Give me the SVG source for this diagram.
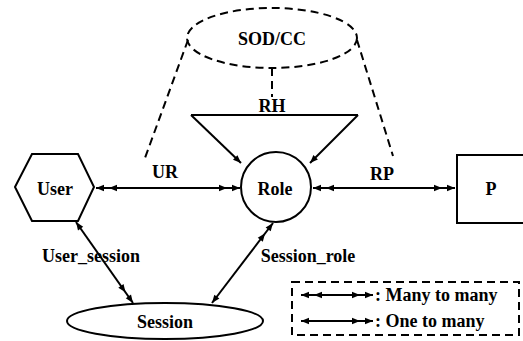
<svg xmlns="http://www.w3.org/2000/svg" width="523" height="341" viewBox="0 0 523 341">
  <style>
    .shape { fill: #fff; stroke: #000; stroke-width: 2; }
    .dash { fill: none; stroke: #000; stroke-width: 2; stroke-dasharray: 8 5; }
    .link { fill: none; stroke: #000; stroke-width: 2; }
    .lbl { font-family: "Liberation Serif", "Times New Roman", serif; font-size: 18px; font-weight: bold; fill: #000; text-anchor: middle; }
    .leg { font-family: "Liberation Serif", "Times New Roman", serif; font-size: 18px; font-weight: bold; fill: #000; }
    .m2m { marker-start: url(#dbl); marker-end: url(#dbl); }
    .o2m { marker-start: url(#one); marker-end: url(#dbl); }
  </style>
  <defs>
    <marker id="one" markerUnits="userSpaceOnUse" orient="auto-start-reverse" refX="0" refY="0" markerWidth="10" markerHeight="10" overflow="visible">
      <path d="M0,0 L-8,-3.2 L-8,3.2 Z" fill="#000"/>
    </marker>
    <marker id="dbl" markerUnits="userSpaceOnUse" orient="auto-start-reverse" refX="0" refY="0" markerWidth="10" markerHeight="10" overflow="visible">
      <path d="M0,0 L-8,-3.2 L-8,3.2 Z M-13,0 L-21,-3.2 L-21,3.2 Z" fill="#000"/>
    </marker>
  </defs>

  <rect width="523" height="341" fill="#fff"/>

  <!-- constraint layer above the hierarchy -->
  <g id="sodcc">
    <ellipse class="dash" cx="272" cy="38" rx="85" ry="30"/>
    <text class="lbl" x="272" y="45">SOD/CC</text>
  </g>

  <g id="connectors">
    <line class="dash" x1="188" y1="40" x2="145" y2="158"/>
    <line class="dash" x1="357" y1="40" x2="393" y2="156"/>
    <line class="dash" x1="272" y1="68" x2="272" y2="97"/>
    <!-- role hierarchy -->
    <line class="link" x1="191" y1="115" x2="358" y2="115"/>
    <line class="link" x1="191" y1="115" x2="241" y2="163" marker-end="url(#one)"/>
    <line class="link" x1="358" y1="115" x2="310" y2="163" marker-end="url(#one)"/>
    <!-- assignments -->
    <line class="link m2m" x1="96" y1="188" x2="240" y2="188"/>
    <line class="link m2m" x1="313" y1="188" x2="455" y2="188"/>
    <line class="link o2m" x1="76" y1="222" x2="133" y2="303"/>
    <line class="link o2m" x1="212" y1="303" x2="273" y2="223"/>
    <text class="lbl" x="272" y="112">RH</text>
    <text class="lbl" x="165" y="178">UR</text>
    <text class="lbl" x="382" y="180">RP</text>
    <text class="lbl" x="91" y="262">User_session</text>
    <text class="lbl" x="308" y="262">Session_role</text>
  </g>

  <g id="user">
    <polygon class="shape" points="15,187 32,154 78,154 94,187 78,221 32,221"/>
    <text class="lbl" x="55" y="195">User</text>
  </g>

  <g id="role">
    <circle class="shape" cx="276" cy="187" r="35"/>
    <text class="lbl" x="275" y="195">Role</text>
  </g>

  <g id="permission">
    <rect class="shape" x="457" y="155" width="70" height="68"/>
    <text class="lbl" x="491" y="195">P</text>
  </g>

  <g id="session">
    <ellipse class="shape" cx="165" cy="321" rx="98" ry="18"/>
    <text class="lbl" x="165" y="328">Session</text>
  </g>

  <g id="legend">
    <rect class="dash" x="292" y="282" width="227" height="53"/>
    <line class="link m2m" x1="301" y1="295" x2="373" y2="295"/>
    <line class="link o2m" x1="301" y1="321" x2="373" y2="321"/>
    <text class="leg" x="375" y="301">: Many to many</text>
    <text class="leg" x="375" y="327">: One to many</text>
  </g>
</svg>
